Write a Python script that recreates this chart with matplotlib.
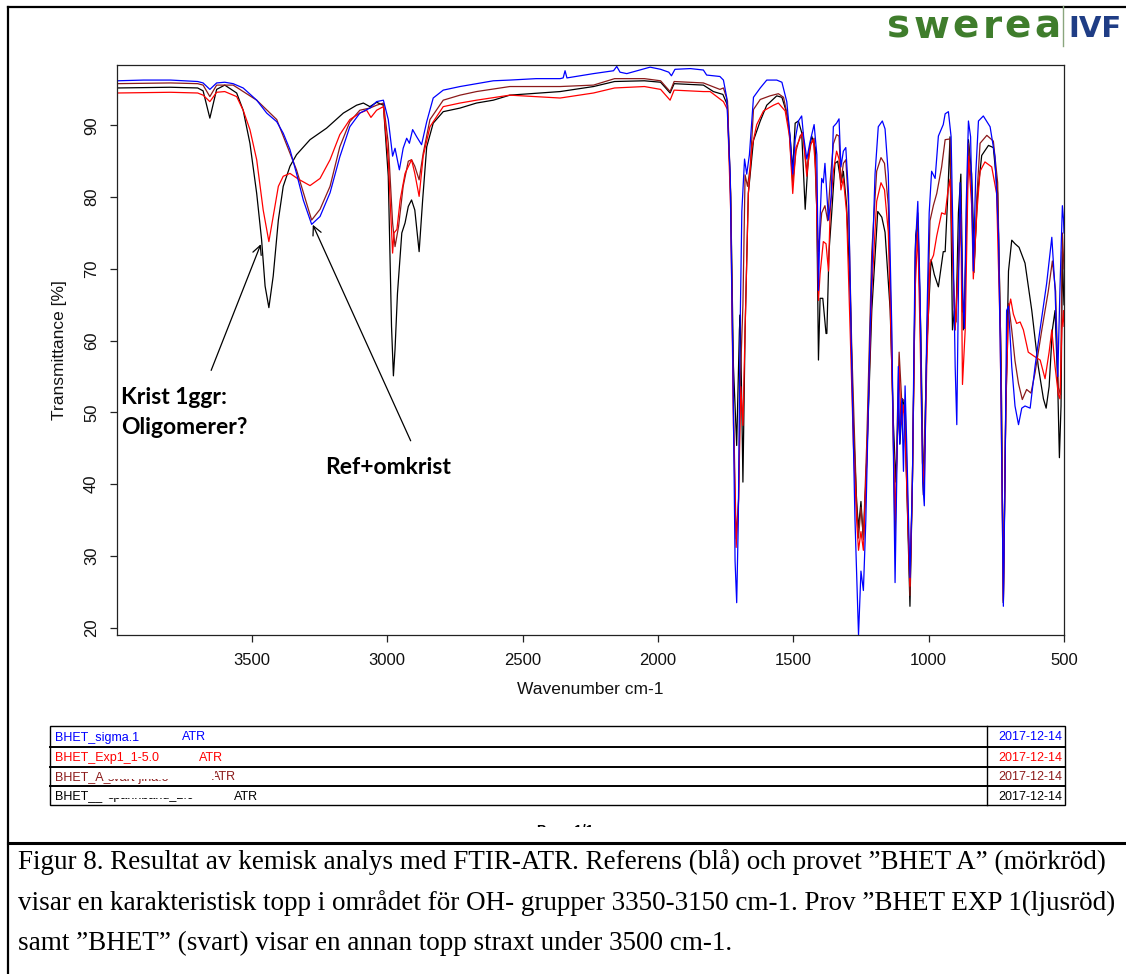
import numpy as np
import matplotlib
matplotlib.use("Agg")
import matplotlib.pyplot as plt
from matplotlib.lines import Line2D
from matplotlib.patches import Rectangle

plt.rcParams['font.family'] = ['Liberation Sans', 'DejaVu Sans']

W, H = 1126, 974

# (wavenumber cm-1, transmittance %)
blue = np.array([
    (3998, 96.2), (3900, 96.3), (3800, 96.3), (3700, 96.1), (3680, 95.9), (3655, 95.0), (3630, 95.9),
    (3600, 96.0), (3569, 95.8), (3532, 95.2), (3482, 93.5), (3445, 91.7), (3408, 90.5), (3384, 88.9),
    (3359, 86.6), (3335, 83.3), (3310, 79.6), (3279, 76.2), (3248, 77.3), (3211, 80.6), (3175, 85.6),
    (3138, 89.8), (3101, 91.7), (3064, 92.4), (3039, 93.3), (3014, 93.5), (2996, 90.8), (2980, 85.7),
    (2971, 86.8), (2955, 83.8), (2941, 86.8), (2928, 88.2), (2918, 87.5), (2906, 89.4), (2891, 88.4),
    (2873, 87.3), (2854, 90.5), (2830, 93.8), (2793, 94.9), (2731, 95.4), (2670, 95.8), (2608, 96.2),
    (2547, 96.3), (2450, 96.5), (2361, 96.5), (2350, 96.6), (2343, 97.6), (2336, 96.6), (2238, 97.2),
    (2164, 97.6), (2152, 98.2), (2140, 97.4), (2115, 97.2), (2029, 98.1), (1990, 97.8), (1960, 97.4),
    (1950, 96.9), (1937, 97.8), (1880, 97.9), (1832, 97.7), (1820, 97.0), (1771, 96.8), (1758, 96.3),
    (1746, 93.9), (1733, 83.1), (1723, 56.4), (1715, 29.3), (1709, 23.5), (1703, 35.0), (1697, 60.0),
    (1690, 78.0), (1680, 85.3), (1672, 83.2), (1662, 85.9), (1647, 93.9), (1622, 95.2), (1598, 96.3),
    (1561, 96.3), (1542, 96.0), (1524, 93.3), (1512, 88.5), (1502, 83.2), (1493, 88.0), (1481, 90.6),
    (1469, 91.3), (1462, 88.5), (1450, 85.3), (1438, 87.7), (1423, 90.1), (1413, 85.9), (1407, 67.0),
    (1401, 77.0), (1395, 82.6), (1389, 82.0), (1383, 84.7), (1370, 76.8), (1360, 80.0), (1352, 89.8),
    (1340, 90.3), (1331, 90.9), (1324, 84.2), (1315, 86.4), (1306, 86.9), (1296, 80.5), (1284, 56.4),
    (1272, 35.0), (1259, 19.0), (1250, 27.9), (1241, 25.2), (1232, 35.0), (1216, 61.7), (1198, 83.2),
    (1186, 89.8), (1171, 90.6), (1161, 89.5), (1149, 83.2), (1136, 61.7), (1124, 26.3), (1118, 40.3),
    (1112, 56.4), (1107, 45.6), (1099, 51.9), (1093, 41.8), (1087, 53.7), (1081, 45.6), (1069, 27.0),
    (1060, 40.3), (1050, 72.4), (1040, 79.4), (1032, 67.1), (1022, 40.3), (1016, 37.0), (1007, 61.7),
    (998, 77.8), (989, 83.6), (976, 82.6), (964, 88.5), (946, 90.1), (939, 91.6), (927, 91.9),
    (917, 88.4), (909, 72.4), (902, 56.4), (896, 48.3), (890, 67.1), (884, 82.0), (875, 67.1),
    (868, 61.7), (862, 77.8), (853, 90.6), (845, 88.4), (835, 69.7), (826, 83.2), (816, 90.6),
    (798, 91.3), (773, 89.8), (755, 85.6), (742, 74.9), (732, 50.9), (724, 23.0), (718, 40.3),
    (712, 64.2), (705, 64.8), (693, 56.4), (681, 50.9), (668, 48.3), (656, 50.6), (644, 50.9),
    (625, 50.6), (607, 56.4), (588, 61.7), (564, 68.0), (545, 74.4), (533, 67.1), (523, 55.0),
    (515, 67.1), (506, 78.8), (502, 77.0), (500, 75.0),
])

brown = np.array([
    (3998, 95.8), (3800, 95.9), (3700, 95.8), (3680, 95.6), (3655, 94.0), (3630, 95.6), (3569, 95.6),
    (3482, 93.5), (3408, 90.8), (3335, 83.8), (3279, 76.8), (3248, 78.3), (3211, 81.5), (3175, 87.0),
    (3138, 90.5), (3101, 92.1), (3064, 92.4), (3039, 92.8), (3014, 93.1), (2996, 87.5), (2980, 76.4),
    (2971, 73.1), (2958, 75.9), (2941, 81.5), (2922, 85.0), (2910, 85.2), (2898, 84.3), (2882, 82.4),
    (2867, 86.1), (2842, 90.8), (2793, 93.5), (2731, 94.2), (2670, 94.7), (2547, 95.4), (2361, 95.4),
    (2238, 95.6), (2160, 96.5), (2050, 96.5), (1990, 96.2), (1955, 94.7), (1940, 96.1), (1832, 95.9),
    (1771, 95.0), (1758, 95.2), (1743, 93.4), (1731, 80.5), (1721, 50.7), (1711, 32.4), (1702, 38.0),
    (1695, 55.0), (1686, 65.0), (1678, 83.1), (1669, 81.5), (1659, 84.2), (1647, 92.2), (1622, 93.6),
    (1586, 94.1), (1555, 94.4), (1536, 93.9), (1518, 90.6), (1502, 82.0), (1490, 86.4), (1475, 88.5),
    (1465, 89.0), (1450, 83.7), (1435, 87.4), (1423, 88.2), (1407, 72.4), (1395, 77.8), (1383, 78.8),
    (1373, 76.7), (1364, 82.0), (1352, 87.4), (1340, 88.7), (1331, 88.5), (1324, 82.0), (1315, 84.7),
    (1306, 85.2), (1296, 78.9), (1284, 59.0), (1266, 37.3), (1259, 32.5), (1250, 36.8), (1241, 32.5),
    (1229, 45.3), (1210, 72.4), (1192, 83.6), (1176, 85.5), (1163, 84.7), (1149, 78.9), (1136, 59.0),
    (1124, 32.0), (1115, 50.0), (1109, 58.4), (1100, 52.0), (1087, 51.5), (1069, 24.5), (1060, 40.2),
    (1048, 72.4), (1040, 77.8), (1032, 64.5), (1019, 38.5), (1007, 58.9), (995, 76.7), (982, 78.9),
    (970, 80.5), (952, 84.2), (939, 88.0), (921, 88.1), (912, 72.0), (902, 61.5), (890, 72.0),
    (881, 80.0), (875, 64.0), (866, 66.0), (853, 87.5), (841, 81.0), (832, 69.5), (822, 80.0),
    (810, 87.5), (785, 88.6), (761, 87.8), (745, 82.0), (732, 56.0), (724, 23.5), (715, 50.0),
    (705, 65.2), (693, 61.5), (681, 57.2), (668, 54.0), (654, 51.8), (638, 53.2), (622, 52.7),
    (607, 55.5), (582, 61.5), (558, 66.9), (543, 71.1), (531, 66.9), (521, 53.5), (513, 52.5),
    (506, 75.0), (500, 70.0),
])

red = np.array([
    (3998, 94.5), (3800, 94.6), (3700, 94.5), (3680, 94.2), (3655, 93.3), (3630, 94.6), (3600, 94.7),
    (3556, 94.0), (3532, 92.1), (3507, 89.4), (3482, 85.2), (3458, 78.2), (3437, 73.8), (3421, 77.3),
    (3402, 81.5), (3384, 82.9), (3359, 83.3), (3328, 82.5), (3285, 81.6), (3248, 82.6), (3211, 85.2),
    (3175, 88.7), (3138, 90.8), (3101, 91.7), (3076, 92.1), (3060, 91.1), (3039, 92.1), (3014, 92.6),
    (2996, 85.2), (2980, 72.2), (2975, 75.0), (2964, 75.5), (2952, 79.6), (2934, 83.3), (2910, 85.2),
    (2898, 83.3), (2882, 80.1), (2867, 85.7), (2842, 89.8), (2793, 92.6), (2731, 93.1), (2670, 93.5),
    (2547, 94.2), (2361, 93.8), (2238, 94.5), (2160, 95.2), (2050, 95.4), (1990, 95.0), (1955, 93.5),
    (1940, 94.9), (1832, 94.7), (1807, 94.7), (1758, 93.3), (1743, 92.2), (1731, 77.8), (1721, 48.3),
    (1711, 31.2), (1702, 37.6), (1694, 53.6), (1686, 48.2), (1678, 61.5), (1666, 80.5), (1653, 86.9),
    (1635, 90.1), (1610, 92.0), (1573, 92.8), (1555, 93.1), (1530, 92.0), (1514, 88.5), (1502, 80.5),
    (1490, 86.9), (1475, 88.2), (1465, 89.0), (1450, 82.9), (1438, 87.2), (1426, 88.0), (1416, 83.2),
    (1407, 65.6), (1401, 69.3), (1389, 73.8), (1379, 73.5), (1370, 69.7), (1364, 77.8), (1352, 83.6),
    (1340, 86.4), (1331, 85.3), (1324, 81.0), (1315, 82.6), (1303, 77.8), (1290, 61.5), (1278, 45.6),
    (1266, 35.0), (1259, 30.8), (1250, 33.4), (1241, 30.8), (1229, 43.0), (1210, 67.0), (1192, 79.4),
    (1176, 82.0), (1163, 81.0), (1149, 75.1), (1136, 56.4), (1124, 35.0), (1114, 48.3), (1109, 56.4),
    (1102, 48.3), (1093, 51.0), (1087, 46.8), (1069, 25.8), (1060, 40.3), (1050, 67.0), (1040, 75.1),
    (1032, 61.5), (1023, 43.0), (1016, 40.3), (1007, 56.4), (995, 70.8), (982, 71.9), (970, 74.6),
    (952, 77.8), (939, 77.6), (929, 80.8), (921, 82.5), (912, 72.6), (902, 61.5), (890, 69.8),
    (881, 77.6), (875, 53.9), (865, 61.5), (853, 85.7), (841, 78.8), (835, 68.6), (822, 77.8),
    (810, 83.6), (792, 84.9), (767, 84.2), (749, 80.5), (736, 61.5), (724, 23.8), (715, 50.9),
    (705, 64.2), (697, 65.8), (687, 63.7), (675, 62.4), (662, 62.6), (650, 61.5), (632, 58.4),
    (609, 57.8), (588, 57.3), (570, 54.7), (555, 58.4), (545, 61.5), (533, 56.4), (521, 52.5),
    (515, 51.9), (508, 61.5), (502, 64.2), (500, 62.0),
])

black = np.array([
    (3998, 95.2), (3800, 95.3), (3700, 95.2), (3680, 94.8), (3655, 91.0), (3630, 95.0), (3600, 95.6),
    (3556, 94.5), (3532, 92.1), (3507, 87.5), (3482, 80.5), (3464, 74.1), (3451, 67.6), (3437, 64.6),
    (3421, 69.0), (3402, 76.8), (3384, 81.5), (3359, 84.3), (3335, 85.9), (3285, 88.0), (3224, 89.6),
    (3162, 91.7), (3113, 92.8), (3088, 93.1), (3064, 92.6), (3039, 93.2), (3014, 92.8), (2996, 82.9),
    (2984, 62.0), (2977, 55.1), (2971, 58.8), (2962, 66.6), (2946, 75.0), (2934, 76.4), (2922, 78.7),
    (2910, 79.6), (2898, 78.2), (2882, 72.4), (2869, 79.6), (2854, 87.0), (2830, 90.3), (2793, 91.9),
    (2731, 92.4), (2670, 93.1), (2608, 93.5), (2547, 94.2), (2361, 94.7), (2238, 95.4), (2160, 96.1),
    (2050, 96.2), (1990, 96.0), (1955, 94.5), (1940, 95.8), (1832, 95.6), (1795, 94.7), (1760, 94.3),
    (1743, 92.8), (1731, 79.9), (1721, 56.4), (1709, 45.4), (1699, 61.5), (1696, 63.6), (1690, 50.7),
    (1686, 40.3), (1678, 61.5), (1666, 80.5), (1647, 87.9), (1622, 90.6), (1598, 92.8), (1561, 94.1),
    (1542, 93.9), (1524, 91.7), (1512, 88.5), (1502, 83.7), (1493, 90.3), (1481, 90.6), (1469, 89.0),
    (1456, 78.3), (1444, 85.8), (1432, 88.5), (1419, 86.9), (1413, 77.8), (1407, 57.3), (1401, 65.9),
    (1391, 65.9), (1379, 61.0), (1376, 61.0), (1368, 72.4), (1358, 77.8), (1346, 84.7), (1336, 85.0),
    (1324, 82.0), (1315, 83.6), (1303, 78.8), (1290, 67.0), (1278, 48.3), (1266, 37.6), (1259, 33.9),
    (1250, 37.6), (1241, 32.3), (1229, 43.0), (1210, 64.2), (1188, 78.0), (1173, 77.2), (1161, 75.1),
    (1142, 64.2), (1130, 48.3), (1121, 40.3), (1112, 50.9), (1106, 45.6), (1097, 51.9), (1090, 50.9),
    (1081, 40.3), (1069, 23.0), (1060, 40.3), (1048, 74.6), (1040, 76.7), (1029, 61.5), (1019, 38.5),
    (1007, 58.9), (991, 71.3), (979, 69.2), (964, 67.5), (946, 72.4), (939, 72.4), (929, 80.5),
    (921, 88.4), (912, 61.5), (905, 64.2), (899, 62.6), (890, 77.8), (881, 83.2), (872, 61.5),
    (866, 66.9), (853, 88.0), (841, 83.2), (831, 71.3), (819, 80.5), (804, 85.8), (779, 87.2),
    (761, 86.9), (745, 80.5), (732, 56.4), (724, 23.5), (715, 50.9), (705, 69.7), (693, 74.0),
    (681, 73.5), (666, 73.0), (644, 70.8), (619, 64.2), (595, 56.4), (576, 51.9), (566, 50.6),
    (555, 53.6), (543, 61.5), (533, 64.2), (523, 53.6), (517, 43.7), (511, 50.9), (506, 72.4),
    (502, 67.0), (500, 65.0),
])

series_names = ["BHET_sigma.1", "BHET_Exp1_1-5.0", "BHET_A_", "BHET__"]
series_hidden = ["", "", "svart-jina.o", "spannband_2.0"]
series_colors = ["#0000ff", "#ff0000", "#8b1a1a", "#000000"]
dates = ["2017-12-14"] * 4

xticks = [3500, 3000, 2500, 2000, 1500, 1000, 500]
yticks = [20, 30, 40, 50, 60, 70, 80, 90]

caption = [
    "Figur 8. Resultat av kemisk analys med FTIR-ATR. Referens (blå) och provet ”BHET A” (mörkröd)",
    "visar en karakteristisk topp i området för OH- grupper 3350-3150 cm-1. Prov ”BHET EXP 1(ljusröd)",
    "samt ”BHET” (svart) visar en annan topp straxt under 3500 cm-1.",
]


def fx(x):
    return x / W


def fy(y):
    return 1 - y / H


fig = plt.figure(figsize=(W / 100, H / 100), dpi=100)
fig.patch.set_facecolor("white")

# plot area
L, R, T, B = 117, 1064, 65, 635
ax = fig.add_axes([fx(L), fy(B), (R - L) / W, (B - T) / H])
for data, col in [(black, series_colors[3]), (brown, series_colors[2]),
                  (red, series_colors[1]), (blue, series_colors[0])]:
    ax.plot(data[:, 0], data[:, 1], color=col, lw=0.9)

ax.set_xlim(3998, 500)
ax.set_ylim(19.0, 98.4)
ax.set_xticks(xticks)
ax.set_yticks(yticks)
for s in ax.spines.values():
    s.set_color("#222222")
    s.set_linewidth(0.9)
ax.tick_params(direction="out", length=5, width=0.9, color="#222222",
               labelsize=12, labelcolor="#111111", pad=8)
plt.setp(ax.get_yticklabels(), rotation=90, va="center")

fig.text(fx(590), fy(690), "Wavenumber cm-1", fontsize=12.5, ha="center", va="center", color="#111111")
fig.text(fx(60), fy(350), "Transmittance [%]", fontsize=12.5, rotation=90,
         ha="center", va="center", color="#111111")

# annotations
ax.annotate("", xy=(3463, 73.8), xytext=(3654, 55.5),
            arrowprops=dict(arrowstyle="->", lw=0.9, color="black", mutation_scale=16))
ax.annotate("", xy=(3279, 76.5), xytext=(2909, 45.7),
            arrowprops=dict(arrowstyle="->", lw=0.9, color="black", mutation_scale=16))
note_font = dict(family=["Lato", "DejaVu Sans"], weight="bold", fontsize=16.5, color="black")
fig.text(fx(121), fy(397), "Krist 1ggr:", ha="left", va="center", **note_font)
fig.text(fx(121), fy(427), "Oligomerer?", ha="left", va="center", **note_font)
fig.text(fx(325), fy(467), "Ref+omkrist", ha="left", va="center", **note_font)

# legend table
rows = [726, 747, 767, 786, 805]
tl, tr, tsep = 50, 1065, 987
fig.add_artist(Rectangle((fx(tl), fy(rows[-1])), (tr - tl) / W, (rows[-1] - rows[0]) / H,
                         transform=fig.transFigure, fill=False, ec="black", lw=1.0))
for yy in rows[1:-1]:
    fig.add_artist(Line2D([fx(tl), fx(tr)], [fy(yy), fy(yy)], transform=fig.transFigure,
                          color="black", lw=1.4))
fig.add_artist(Line2D([fx(tsep), fx(tsep)], [fy(rows[0]), fy(rows[-1])], transform=fig.transFigure,
                      color="black", lw=1.0))
atr_x = [182, 199, 212, 234]
for i in range(4):
    yc = (rows[i] + rows[i + 1]) / 2 + 1
    fig.text(fx(55), fy(yc), series_names[i], fontsize=9, color=series_colors[i], va="center")
    if series_hidden[i]:
        fig.text(fx(108), fy(yc), series_hidden[i], fontsize=9, color=series_colors[i], va="center")
        fig.add_artist(Rectangle((fx(107), fy(yc + 1)), 108 / W, 8 / H, transform=fig.transFigure,
                                 fc="white", ec="none", zorder=5))
    fig.text(fx(atr_x[i]), fy(yc), "ATR", fontsize=9, color=series_colors[i], va="center")
    fig.text(fx(1062), fy(yc), dates[i], fontsize=9, color=series_colors[i], va="center", ha="right")

# cut-off page label
fig.text(fx(565), fy(831), "Page 1/1", fontsize=10, weight="bold", ha="center", va="center")
fig.add_artist(Rectangle((fx(500), fy(842)), 130 / W, 15 / H, transform=fig.transFigure,
                         fc="white", ec="none", zorder=5))

# document frame
fig.add_artist(Line2D([fx(8), fx(8)], [fy(7), 0], transform=fig.transFigure, color="black", lw=1.6))
fig.add_artist(Line2D([fx(8), 1], [fy(7), fy(7)], transform=fig.transFigure, color="black", lw=1.6))
fig.add_artist(Line2D([fx(8), 1], [fy(843), fy(843)], transform=fig.transFigure, color="black",
                      lw=2.2, zorder=6))

# logo
logo_letters = list("swerea")
logo_x = [899, 932, 966, 992, 1018, 1047]
for ch, xx in zip(logo_letters, logo_x):
    fig.text(fx(xx), fy(38), ch, fontsize=28, weight="bold", color="#3f7d2c",
             ha="center", va="baseline", family="DejaVu Sans")
fig.add_artist(Line2D([fx(1063), fx(1063)], [fy(6), fy(46)], transform=fig.transFigure,
                      color="#8aa67e", lw=1.0))
fig.text(fx(1068), fy(37), "IVF", fontsize=21, weight="bold", color="#1f3d85",
         ha="left", va="baseline", family="DejaVu Sans")

# caption
cap_y = [862, 903, 943]
for line, yy in zip(caption, cap_y):
    fig.text(fx(18), fy(yy), line, fontsize=19.5, family=["Liberation Serif", "DejaVu Serif"],
             ha="left", va="center", color="black")

fig.savefig("out.png", dpi=100)
